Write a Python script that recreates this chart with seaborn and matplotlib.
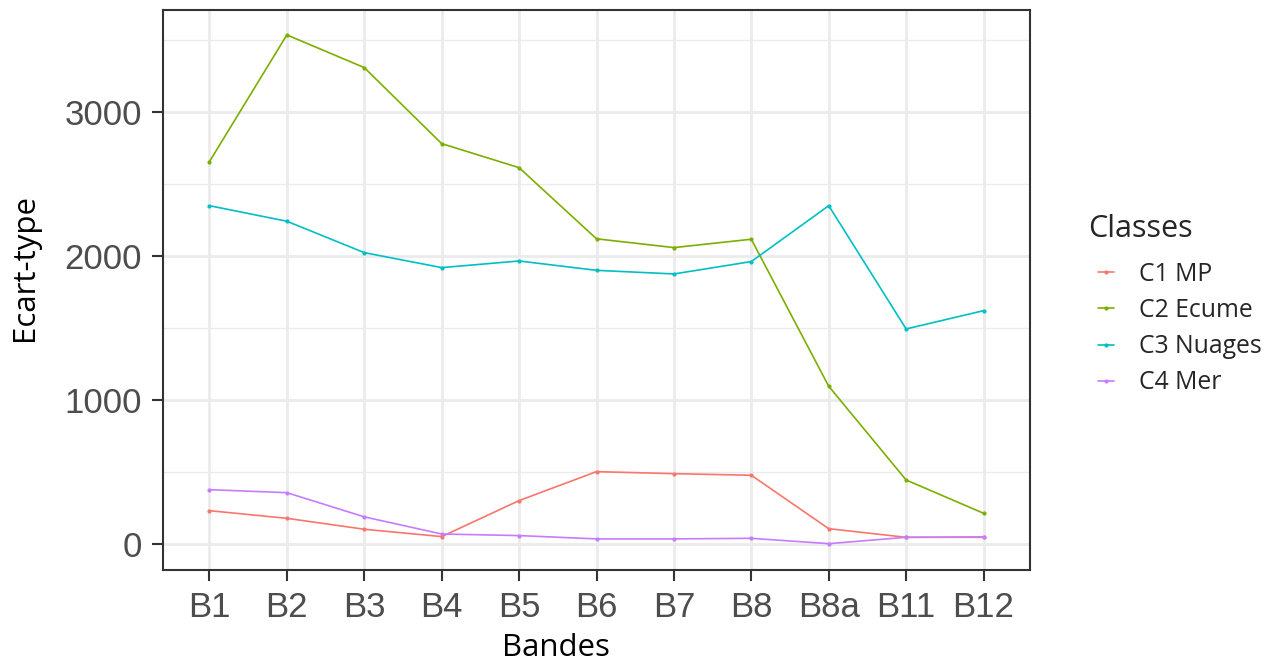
import pandas as pd
import matplotlib
matplotlib.use("Agg")
import matplotlib.pyplot as plt
from matplotlib.ticker import MultipleLocator
import seaborn as sns

# --- données ---
bandes = ["B1", "B2", "B3", "B4", "B5", "B6", "B7", "B8", "B8a", "B11", "B12"]
classes = ["C1 MP", "C2 Ecume", "C3 Nuages", "C4 Mer"]

c1_mp = [231, 178, 102, 51, 301, 502, 488, 477, 106, 46, 46]
c2_ecume = [2655, 3535, 3308, 2780, 2613, 2119, 2058, 2116, 1095, 444, 213]
c3_nuages = [2349, 2241, 2023, 1919, 1965, 1900, 1875, 1961, 2349, 1493, 1620]
c4_mer = [377, 356, 188, 69, 58, 35, 35, 39, 2, 46, 49]

couleurs = ["#F8766D", "#7CAE00", "#00BFC4", "#C77CFF"]

series = [c1_mp, c2_ecume, c3_nuages, c4_mer]
rows = []
for cl, vals in zip(classes, series):
    for b, v in zip(bandes, vals):
        rows.append({"Bandes": b, "Ecart-type": v, "Classes": cl})
df = pd.DataFrame(rows)

sns.set_theme(style="white")
plt.rcParams['font.family'] = ['Liberation Sans', 'DejaVu Sans']
titre_font = ["Open Sans", "DejaVu Sans"]

fig = plt.figure(figsize=(12.74, 6.61), dpi=100)
ax = fig.add_axes([163 / 1274, 1 - 570 / 661, 867 / 1274, 560 / 661])

sns.lineplot(data=df, x="Bandes", y="Ecart-type", hue="Classes",
             hue_order=classes, palette=couleurs, marker="o",
             markersize=3, markeredgewidth=0, linewidth=1.2,
             sort=False, ax=ax, legend=True)

ax.set_xlim(-0.6, len(bandes) - 1 + 0.6)
ax.set_ylim(-181, 3708)
ax.yaxis.set_major_locator(MultipleLocator(1000))
ax.yaxis.set_minor_locator(MultipleLocator(500))

ax.grid(which="major", color="#EBEBEB", linewidth=2.0)
ax.grid(which="minor", axis="y", color="#EBEBEB", linewidth=1.0)
ax.set_axisbelow(True)
for sp in ax.spines.values():
    sp.set_color("#333333")
    sp.set_linewidth(1.5)

ax.tick_params(axis="both", which="major", length=8, width=1.5, color="#333333",
               labelsize=25, labelcolor="#4D4D4D", pad=7)
ax.tick_params(axis="both", which="minor", length=0)
ax.tick_params(bottom=True, left=True)

ax.set_xlabel("Bandes", fontsize=22.5, family=titre_font, color="black", va="center")
ax.set_ylabel("Ecart-type", fontsize=22.5, family=titre_font, color="black", va="center")
ax.xaxis.set_label_coords(0.453, -0.139)
ax.yaxis.set_label_coords(-0.159, 0.54)

# légende : titre à part pour reproduire le retrait des symboles
handles, labels = ax.get_legend_handles_labels()
leg = ax.legend(handles, labels, loc="upper left",
                bbox_to_anchor=(1098 / 1274, 1 - 262 / 661),
                bbox_transform=fig.transFigure, frameon=False,
                prop={"family": titre_font, "size": 17.8},
                handlelength=0.65, handletextpad=1.0, labelspacing=0.45,
                borderaxespad=0, borderpad=0)
fig.text(1088 / 1274, 1 - 229 / 661, "Classes", fontsize=22,
         family=titre_font, va="center", ha="left")

fig.savefig("out.png", dpi=100)
